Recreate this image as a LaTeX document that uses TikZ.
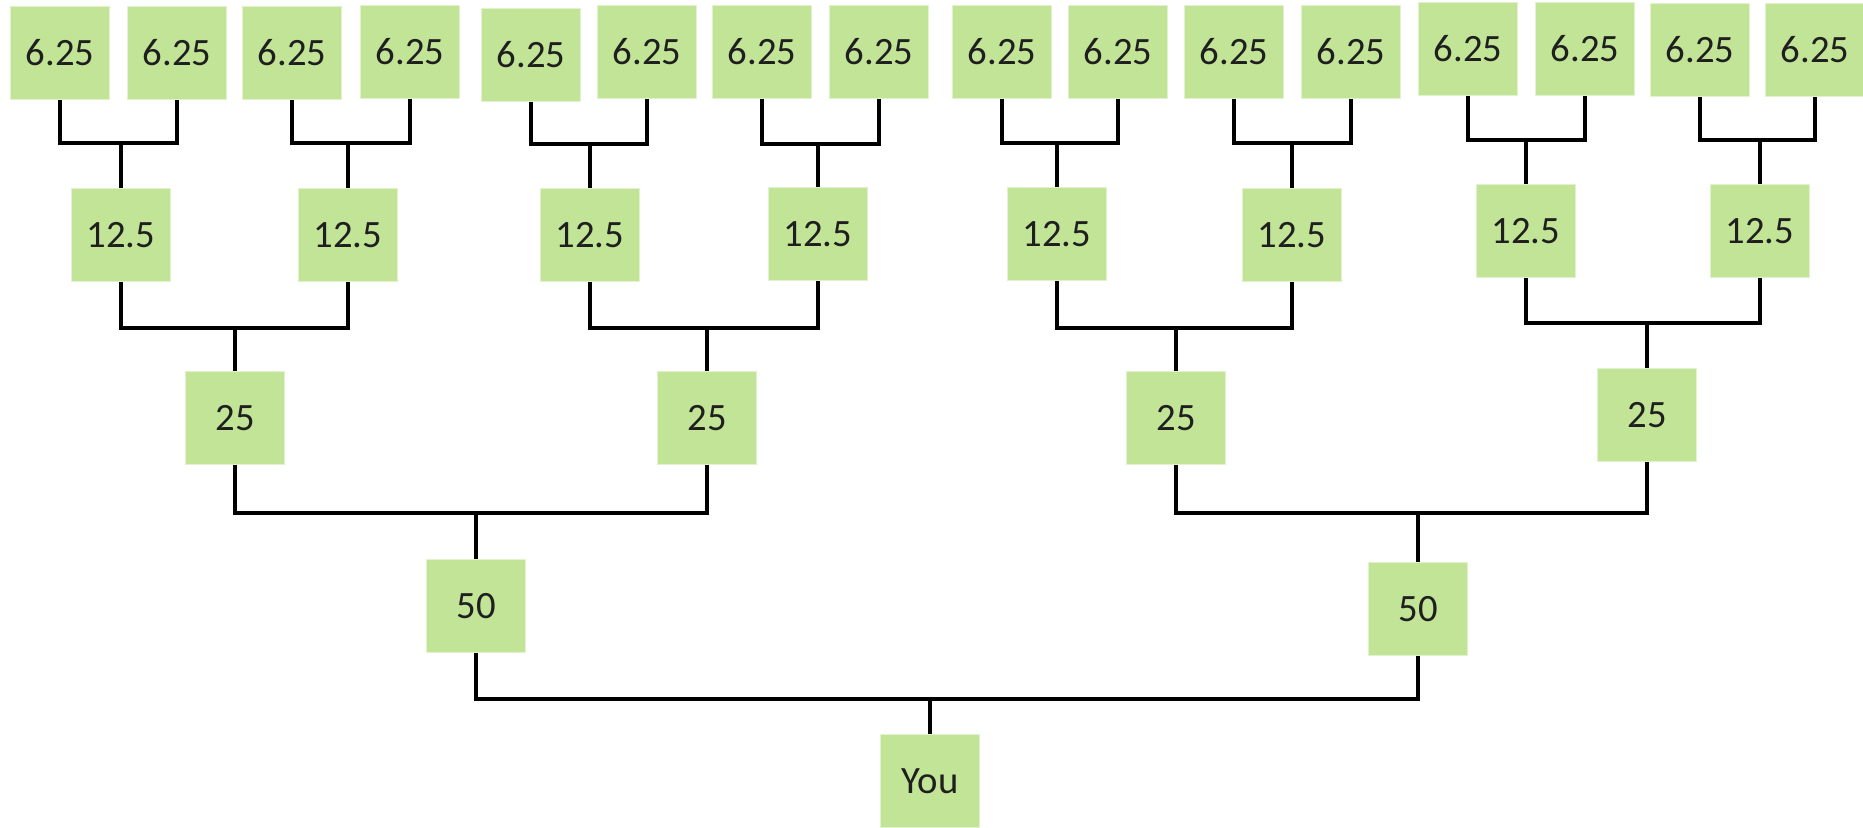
\documentclass[tikz,border=0pt]{standalone}
\usepackage{fontspec}
\setmainfont{Carlito}
\definecolor{boxgreen}{RGB}{193,228,150}
\definecolor{boxedge}{RGB}{226,242,206}
\newcommand\mytee[4]{%
  \coordinate (#3j) at (#3.north |- 0,#4);
  \draw[link] (#1.south) |- (#3j) -| (#2.south);
  \draw[link] (#3j) -- (#3.north);}
\begin{document}
\begin{tikzpicture}[x=0.01cm,y=-0.01cm,
  box/.style={rectangle, fill=boxgreen, draw=boxedge, line width=0.5pt,
    minimum width=0.99cm, minimum height=0.93cm, inner sep=0pt,
    font=\fontsize{11}{13}\selectfont, text=black!88},
  link/.style={draw=black, line width=1.4pt}]
\useasboundingbox (0,0) rectangle (1863,828);
% level 1
\node[box] (a1) at (60,53) {6.25};
\node[box] (a2) at (177,53) {6.25};
\node[box] (a3) at (292,53) {6.25};
\node[box] (a4) at (410,52) {6.25};
\node[box] (b1) at (531,55) {6.25};
\node[box] (b2) at (647,52) {6.25};
\node[box] (b3) at (762,52) {6.25};
\node[box] (b4) at (879,52) {6.25};
\node[box] (c1) at (1002,52) {6.25};
\node[box] (c2) at (1118,52) {6.25};
\node[box] (c3) at (1234,52) {6.25};
\node[box] (c4) at (1351,52) {6.25};
\node[box] (d1) at (1468,49) {6.25};
\node[box] (d2) at (1585,49) {6.25};
\node[box] (d3) at (1700,50) {6.25};
\node[box] (d4) at (1815,50) {6.25};
% level 2
\node[box] (e1) at (121,235) {12.5};
\node[box] (e2) at (348,235) {12.5};
\node[box] (e3) at (590,235) {12.5};
\node[box] (e4) at (818,234) {12.5};
\node[box] (e5) at (1057,234) {12.5};
\node[box] (e6) at (1292,235) {12.5};
\node[box] (e7) at (1526,231) {12.5};
\node[box] (e8) at (1760,231) {12.5};
% level 3
\node[box] (f1) at (235,418) {25};
\node[box] (f2) at (707,418) {25};
\node[box] (f3) at (1176,418) {25};
\node[box] (f4) at (1647,415) {25};
% level 4
\node[box] (g1) at (476,606) {50};
\node[box] (g2) at (1418,609) {50};
% level 5
\node[box] (you) at (930,781) {You};
% connectors
\mytee{a1}{a2}{e1}{143}
\mytee{a3}{a4}{e2}{143}
\mytee{b1}{b2}{e3}{144}
\mytee{b3}{b4}{e4}{144}
\mytee{c1}{c2}{e5}{143}
\mytee{c3}{c4}{e6}{143}
\mytee{d1}{d2}{e7}{140}
\mytee{d3}{d4}{e8}{140}
\mytee{e1}{e2}{f1}{328}
\mytee{e3}{e4}{f2}{328}
\mytee{e5}{e6}{f3}{328}
\mytee{e7}{e8}{f4}{323}
\mytee{f1}{f2}{g1}{513}
\mytee{f3}{f4}{g2}{513}
\mytee{g1}{g2}{you}{699}
\end{tikzpicture}
\end{document}
